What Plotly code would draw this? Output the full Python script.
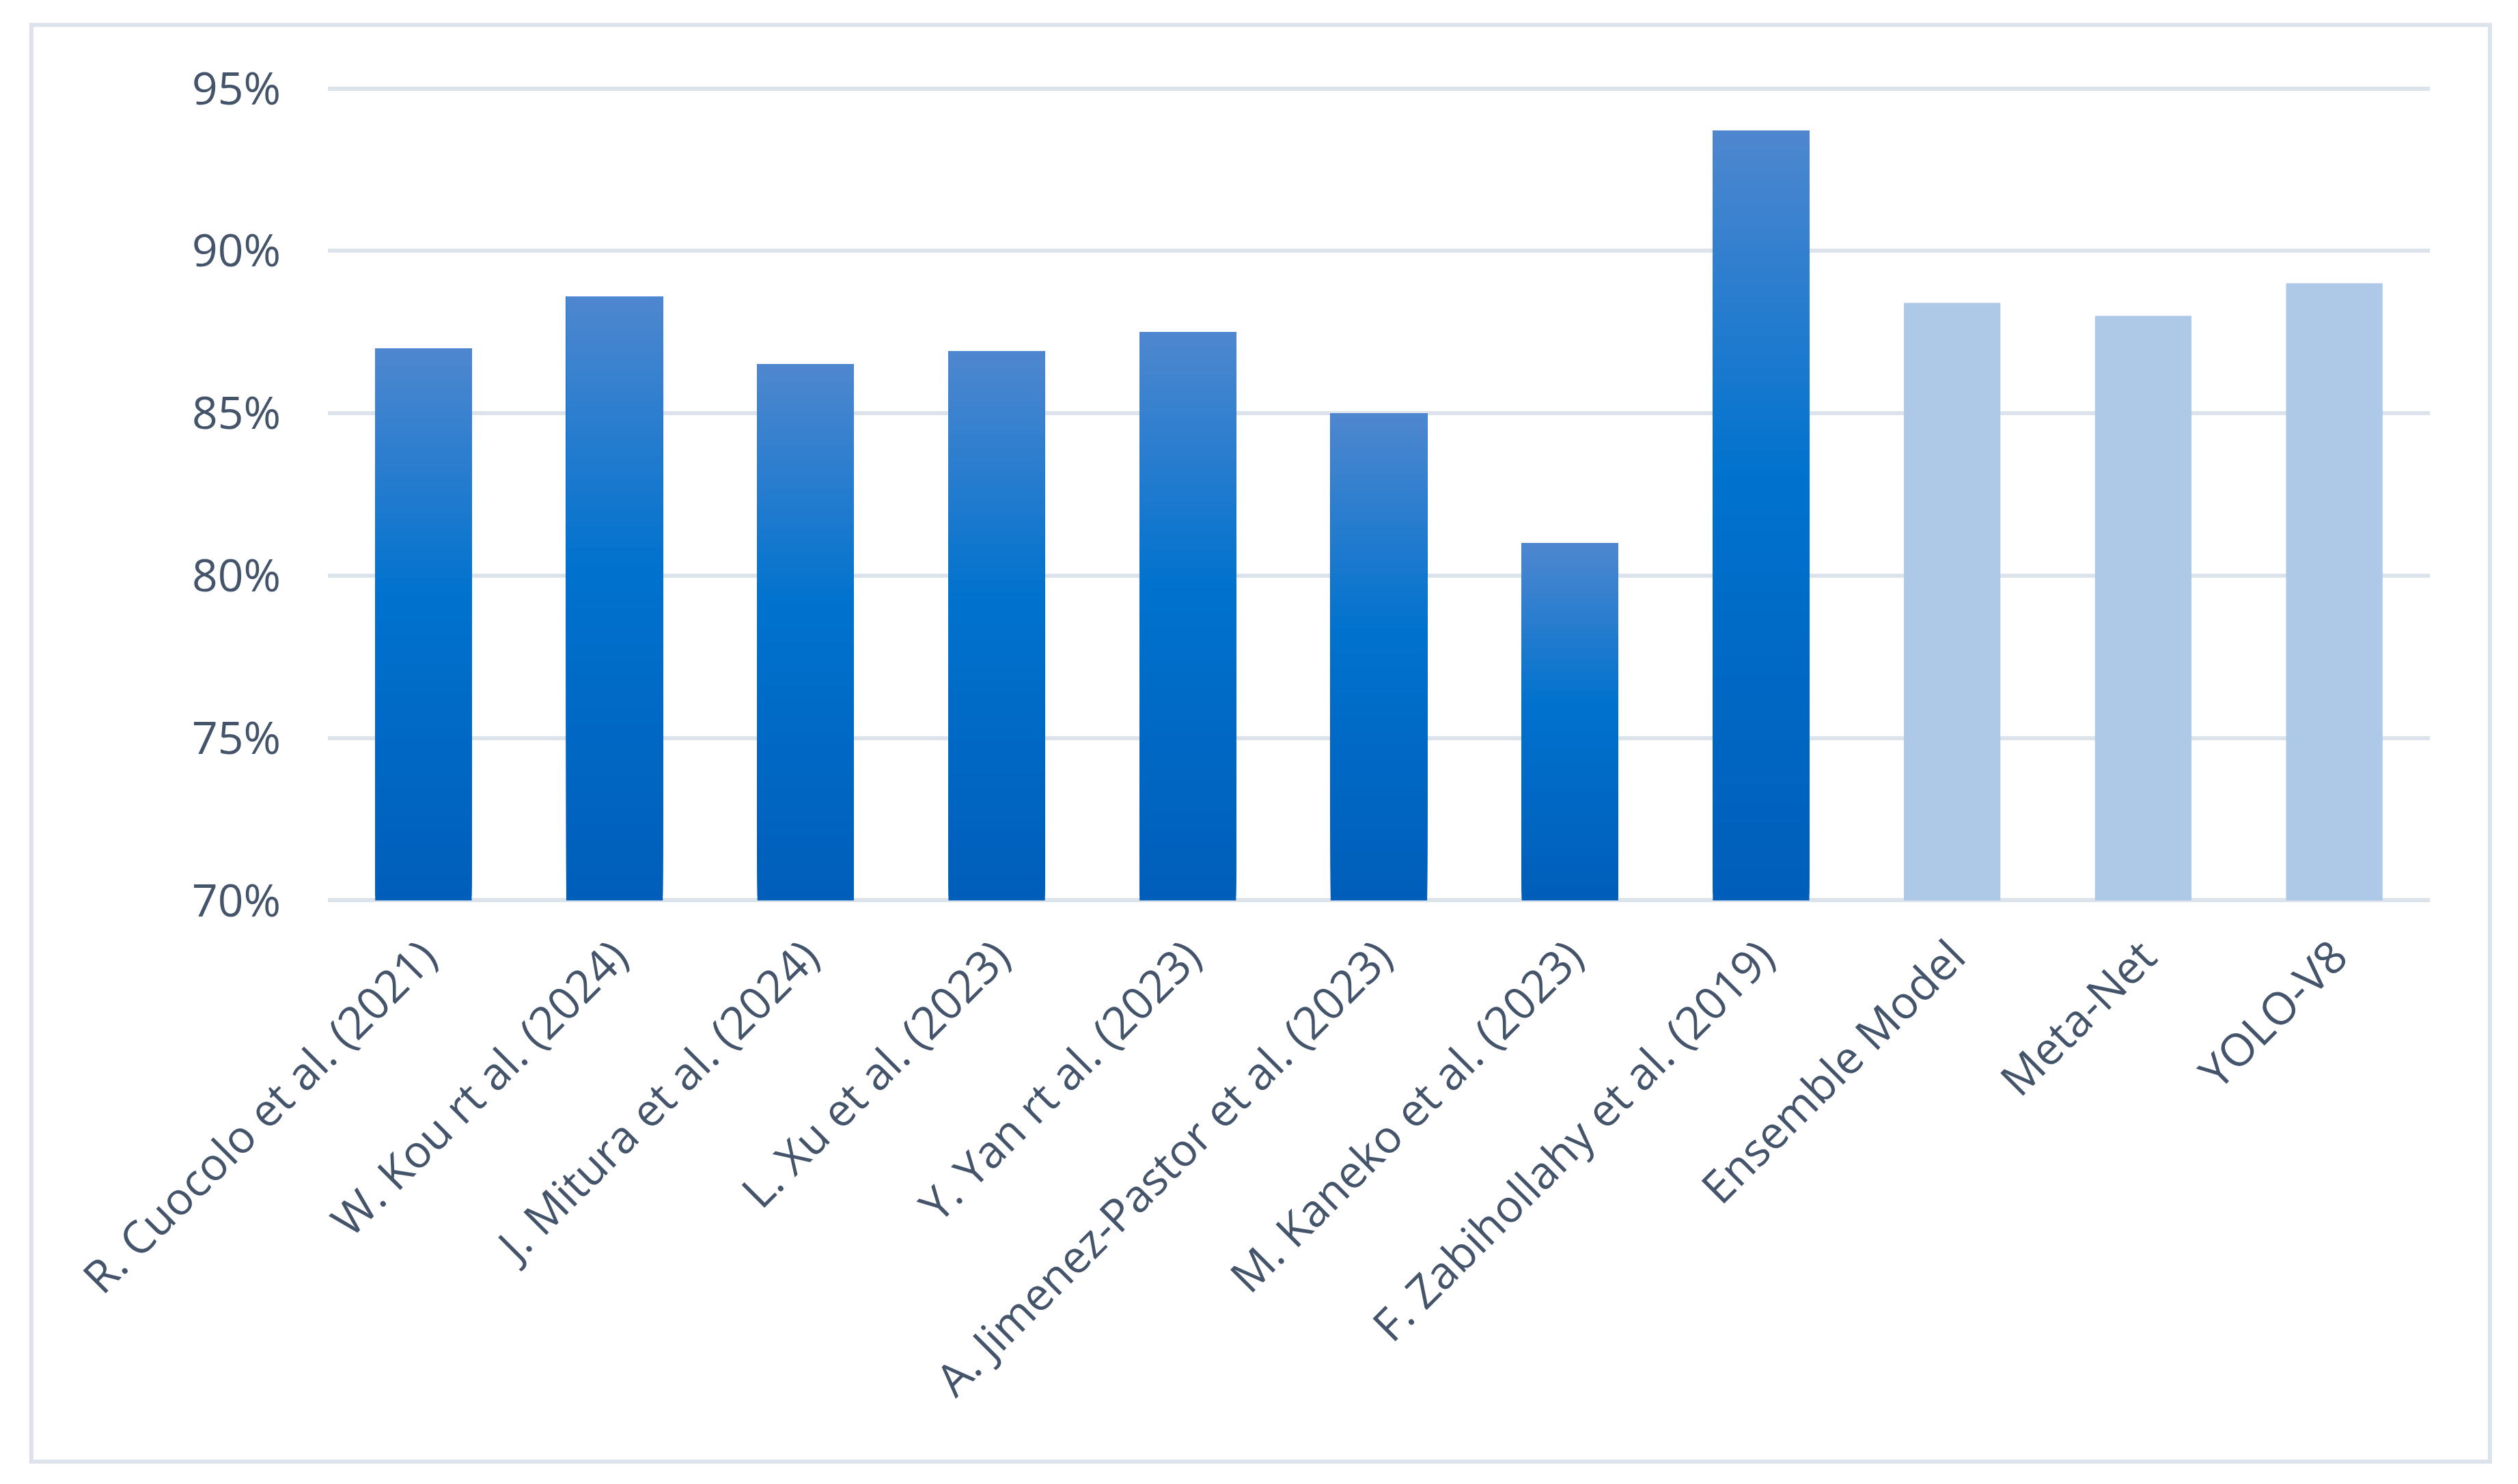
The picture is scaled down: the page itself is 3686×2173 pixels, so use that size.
import plotly.graph_objects as go

# ---- data ----
studies = ["R. Cuocolo et al. (2021)", "W. Kou rt al. (2024)", "J. Mitura et al. (2024)",
           "L. Xu et al. (2023)", "Y. Yan rt al. (2023)", "A. Jimenez-Pastor et al. (2023)",
           "M. Kaneko et al. (2023)", "F. Zabihollahy et al. (2019)"]
study_acc = [87.0, 88.6, 86.5, 86.9, 87.5, 85.0, 81.0, 93.7]

models = ["Ensemble Model", "Meta-Net", "YOLO-V8"]
model_acc = [88.4, 88.0, 89.0]

y_ticks = [70, 75, 80, 85, 90, 95]
y_tick_text = ["70%", "75%", "80%", "85%", "90%", "95%"]

# ---- style ----
W, H = 3686, 2173
PAD = 0.2                      # axis padding so edge gridlines are drawn
PX_PER_UNIT = 1188 / 25
L, R = 480, 129
T = 130 - PAD * PX_PER_UNIT
B = 855 - PAD * PX_PER_UNIT
BASE = 70
TEXT = "#44546A"
GRID = "#DCE3EA"
LIGHT = "#AEC8E8"
STOPS = [(0.0, (0x4F, 0x87, 0xCF)), (0.45, (0x00, 0x72, 0xCE)), (1.0, (0x00, 0x5E, 0xBA))]  # top -> bottom


def grad(f):
    for (a, ca), (b, cb) in zip(STOPS[:-1], STOPS[1:]):
        if a <= f <= b:
            t = (f - a) / (b - a)
            c = [round(ca[i] + (cb[i] - ca[i]) * t) for i in range(3)]
            return "rgb(%d,%d,%d)" % tuple(c)
    return "rgb(0,94,186)"


fig = go.Figure()
N = 120
for j in range(N):
    f_top = 1 - (j + 0.5) / N
    bases = [BASE + (v - BASE) * j / N for v in study_acc]
    fig.add_trace(go.Bar(
        x=studies,
        y=[v - b for v, b in zip(study_acc, bases)],
        base=bases,
        marker=dict(color=grad(f_top), line=dict(width=0)),
        showlegend=False, hoverinfo="skip",
    ))

fig.add_trace(go.Bar(
    x=models, y=[v - BASE for v in model_acc], base=[BASE] * len(model_acc),
    marker=dict(color=LIGHT, line=dict(width=0)), showlegend=False,
))

pw, ph = W - L - R, H - T - B
fig.add_shape(type="rect", xref="paper", yref="paper",
              x0=(46 - L) / pw, x1=(3645 - L) / pw,
              y0=(T + ph - 2139) / ph, y1=(T + ph - 37) / ph,
              line=dict(color=GRID, width=6), fillcolor="rgba(0,0,0,0)", layer="below")

fig.update_layout(
    width=W, height=H,
    margin=dict(l=L, r=R, t=T, b=B),
    paper_bgcolor="white", plot_bgcolor="white",
    barmode="overlay", bargap=0.495,
    font=dict(family="Open Sans", size=66, color=TEXT),
    xaxis=dict(categoryorder="array", categoryarray=studies + models,
               tickangle=-45, showgrid=False, showline=False, ticks="",
               ticklabelstandoff=20, tickfont=dict(size=66, color=TEXT)),
    yaxis=dict(range=[BASE - PAD, 95 + PAD], tickvals=y_ticks, ticktext=y_tick_text,
               showgrid=True, gridcolor=GRID, gridwidth=6, zeroline=False,
               showline=False, ticks="", ticklabelstandoff=68,
               tickfont=dict(size=66, color=TEXT)),
)

fig.write_html("out.html", config={"displayModeBar": False})
with open("out.html", "r", encoding="utf-8") as fh:
    html = fh.read()
html = html.replace("<body>", '<body style="margin:0">', 1)
with open("out.html", "w", encoding="utf-8") as fh:
    fh.write(html)
